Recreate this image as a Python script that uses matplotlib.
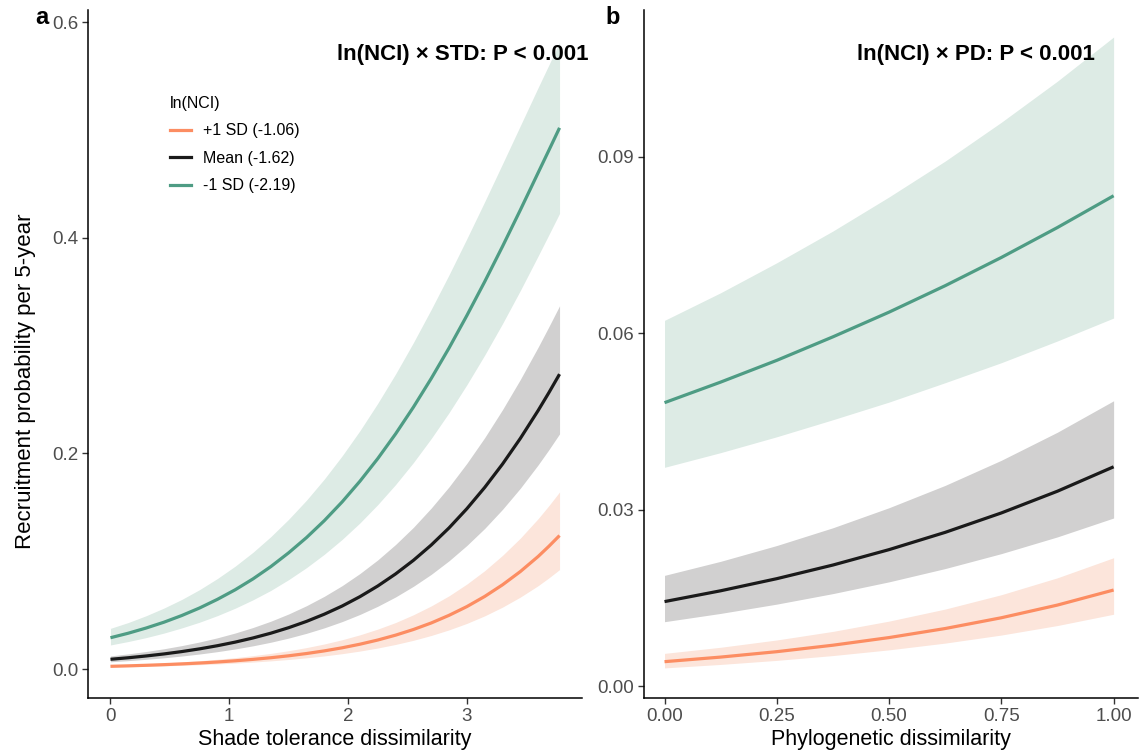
import numpy as np
import matplotlib.pyplot as plt
from matplotlib.lines import Line2D

plt.rcParams['font.family'] = ['Liberation Sans', 'DejaVu Sans']

# Predicted recruitment probability vs shade tolerance dissimilarity (STD)
std_x = [0, 0.15, 0.3, 0.45, 0.6, 0.75, 0.9, 1.05, 1.2, 1.35, 1.5, 1.65, 1.8, 1.95,
         2.1, 2.25, 2.4, 2.55, 2.7, 2.85, 3.0, 3.15, 3.3, 3.45, 3.6, 3.69, 3.78]

std_hi = [0.0025, 0.00293, 0.00344, 0.00403, 0.00473, 0.00554, 0.0065, 0.00762, 0.00893,
          0.01046, 0.01225, 0.01435, 0.01681, 0.01966, 0.023, 0.02688, 0.0314, 0.03664,
          0.0427, 0.0498, 0.0579, 0.0673, 0.0781, 0.0904, 0.1044, 0.1138, 0.1238]
std_hi_up = [0.00347, 0.00407, 0.00477, 0.0056, 0.00656, 0.00769, 0.00902, 0.01056, 0.01238,
             0.01449, 0.01697, 0.01985, 0.0232, 0.02714, 0.0317, 0.037, 0.0431, 0.0503,
             0.0585, 0.0679, 0.0788, 0.0912, 0.1054, 0.1214, 0.1395, 0.1515, 0.1642]
std_hi_lo = [0.0018, 0.00211, 0.00247, 0.0029, 0.0034, 0.00399, 0.00468, 0.00549, 0.00643,
             0.00754, 0.00884, 0.01036, 0.01214, 0.01421, 0.01664, 0.01947, 0.02278, 0.02661,
             0.0311, 0.0363, 0.0423, 0.0493, 0.0574, 0.0667, 0.0773, 0.0845, 0.0922]

std_mean = [0.00902, 0.01043, 0.01208, 0.01397, 0.01616, 0.01868, 0.0216, 0.02494, 0.0288,
            0.03323, 0.03833, 0.04415, 0.05084, 0.0584, 0.06711, 0.077, 0.0882, 0.1008,
            0.115, 0.1309, 0.1487, 0.1684, 0.1901, 0.2139, 0.2398, 0.2563, 0.2735]
std_mean_up = [0.01213, 0.01403, 0.01623, 0.01876, 0.02169, 0.02505, 0.02893, 0.03338, 0.03849,
               0.04434, 0.05105, 0.0587, 0.06743, 0.0773, 0.08857, 0.1012, 0.1155, 0.1314,
               0.1493, 0.169, 0.1908, 0.2146, 0.2406, 0.2686, 0.2986, 0.3175, 0.3369]
std_mean_lo = [0.00669, 0.00775, 0.00898, 0.01039, 0.01202, 0.01391, 0.01609, 0.01859, 0.02151,
               0.02484, 0.02868, 0.03309, 0.03817, 0.04397, 0.05061, 0.0582, 0.06684, 0.0767,
               0.0878, 0.1004, 0.1146, 0.1304, 0.1481, 0.1677, 0.1894, 0.2034, 0.2181]

std_lo = [0.029, 0.0332, 0.038, 0.0434, 0.0496, 0.0566, 0.0646, 0.0735, 0.0836,
          0.095, 0.1078, 0.1219, 0.1376, 0.155, 0.1742, 0.1952, 0.2181, 0.2429,
          0.2695, 0.2978, 0.3279, 0.3593, 0.392, 0.4258, 0.4604, 0.4811, 0.502]
std_lo_up = [0.0377, 0.0431, 0.0494, 0.0565, 0.0645, 0.0736, 0.0839, 0.0954, 0.1083,
             0.1228, 0.1389, 0.1566, 0.1762, 0.1977, 0.2211, 0.2465, 0.2737, 0.3028,
             0.3336, 0.3657, 0.3992, 0.4335, 0.4686, 0.504, 0.5394, 0.5603, 0.5813]
std_lo_lo = [0.0223, 0.0255, 0.0291, 0.0333, 0.0381, 0.0434, 0.0495, 0.0564, 0.0642,
             0.0729, 0.0829, 0.094, 0.1064, 0.1202, 0.1355, 0.1525, 0.1711, 0.1915,
             0.2138, 0.2378, 0.2637, 0.2912, 0.3204, 0.3511, 0.3832, 0.4028, 0.4226]

# Predicted recruitment probability vs phylogenetic dissimilarity (PD)
pd_x = [0, 0.125, 0.25, 0.375, 0.5, 0.625, 0.75, 0.875, 1.0]

pd_hi = [0.00414, 0.00492, 0.00584, 0.00694, 0.00824, 0.00978, 0.01161, 0.01377, 0.01633]
pd_hi_up = [0.00555, 0.00659, 0.00783, 0.00929, 0.01104, 0.01309, 0.01553, 0.01841, 0.02182]
pd_hi_lo = [0.00308, 0.00367, 0.00436, 0.00518, 0.00615, 0.0073, 0.00867, 0.01029, 0.01221]

pd_mean = [0.01436, 0.0162, 0.01826, 0.02058, 0.0232, 0.02614, 0.02944, 0.03314, 0.03729]
pd_mean_up = [0.01882, 0.02121, 0.0239, 0.02692, 0.03033, 0.03413, 0.0384, 0.04318, 0.04852]
pd_mean_lo = [0.01094, 0.01235, 0.01393, 0.01572, 0.01772, 0.01998, 0.02252, 0.02537, 0.02858]

pd_lo = [0.0482, 0.0517, 0.0554, 0.0594, 0.0636, 0.0681, 0.0729, 0.078, 0.0834]
pd_lo_up = [0.0622, 0.0669, 0.072, 0.0774, 0.0832, 0.0893, 0.0959, 0.1029, 0.1104]
pd_lo_lo = [0.0372, 0.0397, 0.0424, 0.0453, 0.0483, 0.0516, 0.055, 0.0587, 0.0626]

labels = ['+1 SD (-1.06)', 'Mean (-1.62)', '-1 SD (-2.19)']
line_cols = ['#FC8D62', '#1A1A1A', '#4E9C84']
fill_cols = ['#FCE5DB', '#D1D0D0', '#DDEBE5']

fig = plt.figure(figsize=(11.42, 7.52), dpi=100)
W, H = 1142, 752
ax1 = fig.add_axes([88 / W, 54 / H, 494 / W, 688 / H])
ax2 = fig.add_axes([643.5 / W, 54 / H, 494 / W, 688 / H])

panels = [
    (ax1, std_x, [(std_hi, std_hi_lo, std_hi_up), (std_mean, std_mean_lo, std_mean_up),
                  (std_lo, std_lo_lo, std_lo_up)]),
    (ax2, pd_x, [(pd_hi, pd_hi_lo, pd_hi_up), (pd_mean, pd_mean_lo, pd_mean_up),
                 (pd_lo, pd_lo_lo, pd_lo_up)]),
]
for ax, xs, groups in panels:
    for (m, lo, up), fc in zip(groups, fill_cols):
        ax.fill_between(xs, lo, up, color=fc, lw=0, zorder=1)
    for (m, lo, up), lc in zip(groups, line_cols):
        ax.plot(xs, m, color=lc, lw=2.3, zorder=3, solid_capstyle='butt',
                solid_joinstyle='round')
    for s in ['top', 'right']:
        ax.spines[s].set_visible(False)
    for s in ['left', 'bottom']:
        ax.spines[s].set_linewidth(1.1)
        ax.spines[s].set_color('black')
    ax.tick_params(axis='both', length=4, width=1, color='#333333',
                   labelsize=13.5, labelcolor='#4D4D4D', pad=3)

ax1.set_xlim(-0.189, 3.969)
ax1.set_ylim(-0.0269, 0.6113)
ax1.set_xticks([0, 1, 2, 3])
ax1.set_xticklabels(['0', '1', '2', '3'])
ax1.set_yticks([0.0, 0.2, 0.4, 0.6])
ax1.set_yticklabels(['0.0', '0.2', '0.4', '0.6'])
ax1.set_xlabel('Shade tolerance dissimilarity', fontsize=15.5, labelpad=3)
ax1.set_ylabel('Recruitment probability per 5-year', fontsize=16)
ax1.yaxis.set_label_coords(-0.106, 0.461)

ax2.set_xlim(-0.0468, 1.0532)
ax2.set_ylim(-0.00204, 0.1150)
ax2.set_xticks([0, 0.25, 0.5, 0.75, 1.0])
ax2.set_xticklabels(['0.00', '0.25', '0.50', '0.75', '1.00'])
ax2.set_yticks([0.0, 0.03, 0.06, 0.09])
ax2.set_yticklabels(['0.00', '0.03', '0.06', '0.09'])
ax2.set_xlabel('Phylogenetic dissimilarity', fontsize=15.5, labelpad=3)

ax1.text(1.014, 0.9346, 'ln(NCI) × STD: P < 0.001', transform=ax1.transAxes,
         ha='right', va='center', fontsize=16, fontweight='bold')
ax2.text(0.914, 0.9346, 'ln(NCI) × PD: P < 0.001', transform=ax2.transAxes,
         ha='right', va='center', fontsize=16, fontweight='bold')

fig.text(42 / W, 1 - 18 / H, 'a', ha='center', va='center', fontsize=17, fontweight='bold')
fig.text(613 / W, 1 - 17 / H, 'b', ha='center', va='center', fontsize=17, fontweight='bold')

handles = [Line2D([], [], color=c, lw=2.3) for c in line_cols]
leg = ax1.legend(handles, labels, title='ln(NCI)', loc='upper left',
                 bbox_to_anchor=(170 / W, 1 - 96 / H), bbox_transform=fig.transFigure,
                 frameon=False, fontsize=11.5, title_fontsize=11.5, borderpad=0,
                 borderaxespad=0, handlelength=1.33, handletextpad=0.75,
                 labelspacing=0.78, alignment='left')

fig.savefig('out.png', dpi=100)
